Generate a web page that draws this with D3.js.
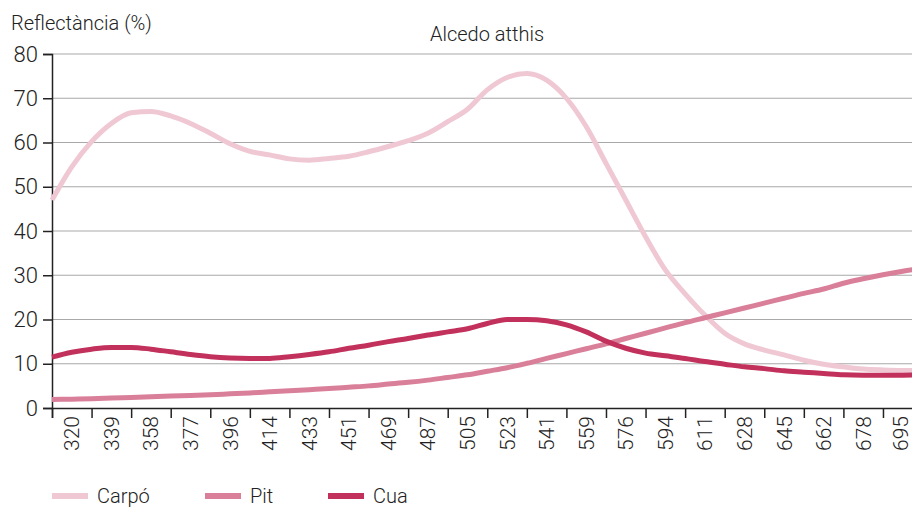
<!DOCTYPE html>
<html>
<head>
<meta charset="utf-8">
<script src="https://cdn.jsdelivr.net/npm/d3@7"></script>
<style>
  html, body { margin: 0; padding: 0; background: #fff; }
  svg text { font-family: Roboto, "Liberation Sans", Arial, sans-serif; font-weight: 300; fill: #222; }
</style>
</head>
<body>
<svg id="chart" width="912" height="509"></svg>
<script>
// ---- data ----
const categories = ["320","339","358","377","396","414","433","451","469","487","505","523","541","559","576","594","611","628","645","662","678","695"];
// readings taken every half category step along the axis (0, 0.5, 1, ... 22)
const samplePositions = d3.range(0, 22.01, 0.5);
const carpo = [47,54.5,60.2,64.3,66.7,67.0,66.0,64.3,62.1,59.7,58.0,57.2,56.3,56.0,56.4,56.9,57.9,59.1,60.4,62.1,64.7,67.5,71.9,74.7,75.6,74.1,70.0,63.6,55.3,47.0,38.7,31.2,25.8,21.0,16.9,14.5,13.1,12.0,10.8,9.9,9.3,8.8,8.6,8.5,8.5];
const pit = [1.9,2.0,2.1,2.25,2.4,2.55,2.7,2.85,3.0,3.2,3.4,3.65,3.9,4.15,4.4,4.7,5.0,5.4,5.8,6.3,6.9,7.5,8.3,9.1,10.1,11.2,12.3,13.4,14.5,15.7,16.9,18.1,19.3,20.4,21.5,22.6,23.7,24.8,25.9,26.9,28.2,29.2,30.1,30.9,31.6];
const cua = [11.5,12.6,13.3,13.7,13.7,13.3,12.7,12.1,11.6,11.3,11.2,11.2,11.6,12.1,12.7,13.5,14.2,15.0,15.7,16.5,17.2,17.9,19.1,20.0,20.0,19.7,18.8,17.2,15.1,13.5,12.4,11.8,11.2,10.5,9.9,9.3,8.9,8.4,8.1,7.8,7.5,7.4,7.4,7.4,7.5];
const seriesNames = ["Carpó", "Pit", "Cua"];
const seriesColors = ["#efc8d4", "#d97f9a", "#c2305c"];
const yTicks = [0,10,20,30,40,50,60,70,80];
const title = "Alcedo atthis";
const yLabel = "Reflectància (%)";

// ---- layout ----
const svg = d3.select("#chart");
const mLeft = 52, mTop = 54, mBottom = 408;
const step = 39.57;
const mRight = mLeft + categories.length * step;

const xLin = d3.scaleLinear().domain([0, categories.length]).range([mLeft, mRight]);
const xBand = d3.scaleBand().domain(categories).range([mLeft, mRight]).padding(0);
const y = d3.scaleLinear().domain([0, 80]).range([mBottom, mTop]);

// gridlines
svg.append("g").selectAll("line").data(yTicks.filter(d => d > 0)).join("line")
  .attr("x1", mLeft).attr("x2", 912)
  .attr("y1", d => y(d)).attr("y2", d => y(d))
  .attr("stroke", "#a9a9a9").attr("stroke-width", 1.2);

// y axis
const yAxis = svg.append("g").attr("transform", `translate(${mLeft},0)`)
  .call(d3.axisLeft(y).tickValues(yTicks).tickSize(9).tickPadding(5));
yAxis.select(".domain").attr("stroke", "#222").attr("stroke-width", 1.5);
yAxis.selectAll(".tick line").attr("stroke", "#222").attr("stroke-width", 1.5);
yAxis.selectAll(".tick text").style("font-size", "22px").attr("fill", "#222");

// lines
const series = [carpo, pit, cua];
const line = d3.line()
  .x((d, i) => xLin(samplePositions[i]))
  .y(d => y(d))
  .curve(d3.curveMonotoneX);
svg.append("g").selectAll("path").data(series).join("path")
  .attr("d", d => line(d))
  .attr("fill", "none")
  .attr("stroke", (d, i) => seriesColors[i])
  .attr("stroke-width", 5)
  .attr("stroke-linejoin", "round");

// x axis ticks (band boundaries)
const xTickAxis = svg.append("g").attr("transform", `translate(0,${mBottom})`)
  .call(d3.axisBottom(xLin).tickValues(d3.range(0, categories.length + 1)).tickSize(10).tickFormat(""));
xTickAxis.select(".domain").attr("stroke", "#222").attr("stroke-width", 1.5);
xTickAxis.selectAll(".tick line").attr("stroke", "#222").attr("stroke-width", 1.5);

// x labels (band centers)
const xLabelAxis = svg.append("g").attr("transform", `translate(0,${mBottom})`)
  .call(d3.axisBottom(xBand).tickSize(0));
xLabelAxis.select(".domain").remove();
xLabelAxis.selectAll(".tick text")
  .style("font-size", "21px")
  .attr("fill", "#222")
  .attr("text-anchor", "end")
  .attr("dy", "0.36em")
  .attr("transform", (d, i) => i === categories.length - 1 ? "translate(-2,8) rotate(-90)" : "translate(0,8) rotate(-90)")
  .attr("x", 0).attr("y", 0);

// title and axis label
svg.append("text").attr("x", 487).attr("y", 41).attr("text-anchor", "middle")
  .style("font-size", "20px").text(title);
svg.append("text").attr("x", 11).attr("y", 30)
  .style("font-size", "20px").text(yLabel);

// legend
const legendX = [52, 205, 328];
const lg = svg.append("g").selectAll("g").data(seriesNames).join("g")
  .attr("transform", (d, i) => `translate(${legendX[i]},496)`);
lg.append("line").attr("x1", 0).attr("x2", 36).attr("y1", 0).attr("y2", 0)
  .attr("stroke", (d, i) => seriesColors[i]).attr("stroke-width", 6);
lg.append("text").attr("x", 45).attr("y", 0).attr("dy", "0.36em")
  .style("font-size", "20px").text(d => d);
</script>
</body>
</html>
